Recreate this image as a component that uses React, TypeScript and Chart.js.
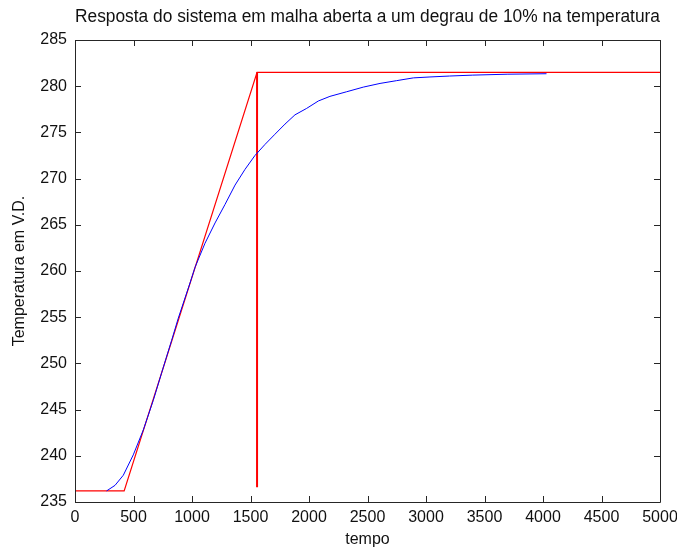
import React, { useEffect, useRef } from "react";
import { Chart, registerables } from "chart.js";

Chart.register(...registerables);

const TITLE = "Resposta do sistema em malha aberta a um degrau de 10% na temperatura";
const X_LABEL = "tempo";
const Y_LABEL = "Temperatura em V.D.";

const xTicks = [0, 500, 1000, 1500, 2000, 2500, 3000, 3500, 4000, 4500, 5000];
const yTicks = [235, 240, 245, 250, 255, 260, 265, 270, 275, 280, 285];

const respX = [270, 342, 413, 498, 584, 669, 741, 826, 883, 983, 1026, 1111, 1197, 1282, 1368, 1453, 1538, 1624, 1709, 1795, 1880, 1980, 2080, 2179, 2322, 2464, 2607, 2749, 2892, 3034, 3200, 3400, 3700, 4030];
const respY = [236.2, 236.8, 237.9, 240.1, 242.8, 246.0, 249.0, 252.5, 254.9, 258.7, 260.4, 263.0, 265.2, 267.2, 269.3, 271.0, 272.5, 273.7, 274.8, 275.9, 276.9, 277.6, 278.4, 278.9, 279.4, 279.9, 280.3, 280.6, 280.9, 281.0, 281.1, 281.2, 281.3, 281.35];

const modelX = [0, 420, 1556, 5000];
const modelY = [236.2, 236.2, 281.5, 281.5];

const markX = [1556, 1556];
const markY = [281.5, 236.6];

const FONT = "'Liberation Sans', Arial, Helvetica, sans-serif";

const zip = (xs: number[], ys: number[]) => xs.map((x, i) => ({ x, y: ys[i] }));

const framePlugin = {
  id: "frame",
  afterDraw(chart: any) {
    const { ctx, chartArea: a, scales } = chart;
    ctx.save();
    ctx.strokeStyle = "#262626";
    ctx.lineWidth = 1;
    ctx.beginPath();
    ctx.rect(Math.round(a.left) + 0.5, Math.round(a.top) + 0.5, Math.round(a.right - a.left), Math.round(a.bottom - a.top));
    ctx.stroke();
    const L = 6;
    ctx.beginPath();
    xTicks.forEach((v) => {
      const px = Math.round(scales.x.getPixelForValue(v)) + 0.5;
      ctx.moveTo(px, a.bottom);
      ctx.lineTo(px, a.bottom - L);
      ctx.moveTo(px, a.top);
      ctx.lineTo(px, a.top + L);
    });
    yTicks.forEach((v) => {
      const py = Math.round(scales.y.getPixelForValue(v)) + 0.5;
      ctx.moveTo(a.left, py);
      ctx.lineTo(a.left + L, py);
      ctx.moveTo(a.right, py);
      ctx.lineTo(a.right - L, py);
    });
    ctx.stroke();
    ctx.restore();
  },
};

export default function App() {
  const ref = useRef<HTMLCanvasElement | null>(null);
  useEffect(() => {
    if (!ref.current) return;
    const chart = new Chart(ref.current, {
      type: "scatter",
      data: {
        datasets: [
          {
            data: zip(respX, respY),
            showLine: true,
            borderColor: "#0000ff",
            borderWidth: 1,
            pointRadius: 0,
            tension: 0,
          },
          {
            data: zip(modelX, modelY),
            showLine: true,
            borderColor: "#ff0000",
            borderWidth: 1.2,
            pointRadius: 0,
            tension: 0,
          },
          {
            data: zip(markX, markY),
            showLine: true,
            borderColor: "#ff0000",
            borderWidth: 2,
            pointRadius: 0,
            tension: 0,
          },
        ],
      },
      options: {
        responsive: false,
        animation: false,
        layout: { padding: { top: 0, right: 17, bottom: 0, left: 0 } },
        plugins: {
          legend: { display: false },
          tooltip: { enabled: false },
          title: {
            display: true,
            fullSize: false,
            text: TITLE,
            color: "#111",
            font: { family: FONT, size: 17.5, weight: "normal" },
            padding: { top: 7, bottom: 12 },
          },
        },
        scales: {
          x: {
            type: "linear",
            min: 0,
            max: 5000,
            afterBuildTicks: (s: any) => {
              s.ticks = xTicks.map((v) => ({ value: v }));
            },
            afterFit: (s: any) => {
              s.height = 47;
              s.paddingLeft = 0;
              s.paddingRight = 0;
            },
            grid: { display: false, drawTicks: false },
            border: { display: false },
            ticks: {
              color: "#111",
              font: { family: FONT, size: 16 },
              padding: 6,
              maxRotation: 0,
              autoSkip: false,
              callback: (v: any) => String(v),
            },
            title: {
              display: true,
              text: X_LABEL,
              color: "#111",
              font: { family: FONT, size: 16 },
              padding: { top: 0, bottom: 0 },
            },
          },
          y: {
            type: "linear",
            min: 235,
            max: 285,
            afterBuildTicks: (s: any) => {
              s.ticks = yTicks.map((v) => ({ value: v }));
            },
            afterFit: (s: any) => {
              s.width = 75;
              s.paddingTop = 0;
              s.paddingBottom = 0;
            },
            grid: { display: false, drawTicks: false },
            border: { display: false },
            ticks: {
              color: "#111",
              font: { family: FONT, size: 16 },
              padding: 8,
              autoSkip: false,
              callback: (v: any) => String(v),
            },
            title: {
              display: true,
              text: Y_LABEL,
              color: "#111",
              font: { family: FONT, size: 16 },
              padding: { top: 10, bottom: 0 },
            },
          },
        },
      },
      plugins: [framePlugin],
    } as any);
    return () => chart.destroy();
  }, []);
  return (
    <div style={{ position: "fixed", left: 0, top: 0, width: 677, height: 549, background: "#fff" }}>
      <canvas ref={ref} width={677} height={549} style={{ display: "block" }} />
    </div>
  );
}
